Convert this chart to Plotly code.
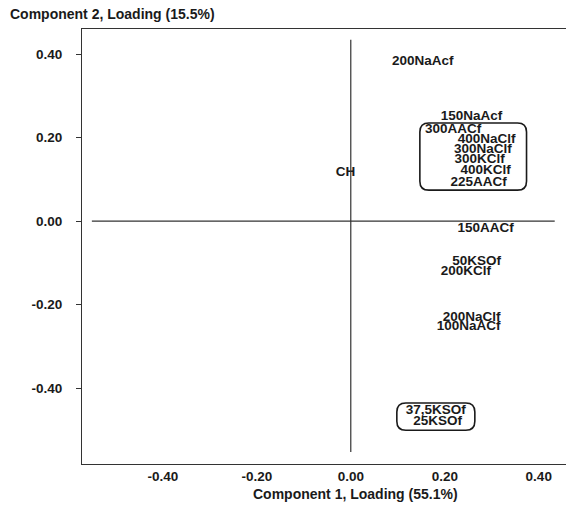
import plotly.graph_objects as go

# Sample labels and their loadings (Component 1, Component 2)
labels = ["200NaAcf", "150NaAcf", "300AACf", "400NaClf", "300NaClf", "300KClf",
          "400KClf", "225AACf", "CH", "150AACf", "50KSOf", "200KClf",
          "200NaClf", "100NaACf", "37,5KSOf", "25KSOf"]
comp1 = [0.153, 0.257, 0.218, 0.289, 0.281, 0.274, 0.287, 0.272, -0.011,
         0.287, 0.268, 0.245, 0.257, 0.251, 0.181, 0.185]
comp2 = [0.381, 0.251, 0.218, 0.196, 0.172, 0.148, 0.120, 0.093, 0.115,
         -0.017, -0.098, -0.122, -0.232, -0.254, -0.455, -0.481]

tick_vals = [-0.4, -0.2, 0.0, 0.2, 0.4]
tick_text = ["-0.40", "-0.20", "0.00", "0.20", "0.40"]

# reference axes lines (data units)
hline_x = [-0.551, 0.434]
vline_y = [-0.553, 0.434]

# grouping boxes [x0, x1, y0, y1]
box1 = [0.147, 0.374, 0.074, 0.235]
box2 = [0.098, 0.264, -0.501, -0.436]

XR = [-0.572, 0.458]
YR = [-0.582, 0.46]
PX_X = 470.0   # px per unit
PX_Y = 417.5

FONT = "Liberation Sans, Arial, sans-serif"
INK = "#1a1a1a"

fig = go.Figure()
fig.add_trace(go.Scatter(
    x=comp1, y=comp2, text=labels, mode="text",
    textposition="middle center",
    textfont=dict(family=FONT, size=13.5, color=INK, weight=700),
    hoverinfo="text", showlegend=False, cliponaxis=False))

shapes = [
    dict(type="line", xref="x", yref="y", x0=hline_x[0], x1=hline_x[1], y0=0, y1=0,
         line=dict(color="#333", width=1.2)),
    dict(type="line", xref="x", yref="y", x0=0, x1=0, y0=vline_y[0], y1=vline_y[1],
         line=dict(color="#333", width=1.2)),
]


def rounded(b, rpx=9):
    x0, x1, y0, y1 = b
    rx = rpx / PX_X
    ry = rpx / PX_Y
    p = (f"M {x0+rx},{y0} L {x1-rx},{y0} Q {x1},{y0} {x1},{y0+ry} "
         f"L {x1},{y1-ry} Q {x1},{y1} {x1-rx},{y1} "
         f"L {x0+rx},{y1} Q {x0},{y1} {x0},{y1-ry} "
         f"L {x0},{y0+ry} Q {x0},{y0} {x0+rx},{y0} Z")
    return dict(type="path", xref="x", yref="y", path=p,
                line=dict(color=INK, width=1.6))


shapes.append(rounded(box1))
shapes.append(rounded(box2))

fig.update_layout(
    width=566, height=505,
    margin=dict(l=82, r=0, t=29, b=41),
    paper_bgcolor="white", plot_bgcolor="white",
    font=dict(family=FONT, size=13, color=INK, weight=700),
    shapes=shapes,
    xaxis=dict(range=XR, showgrid=False, zeroline=False, showline=True,
               linecolor="#333", linewidth=1.2, mirror=True,
               tickvals=tick_vals, ticktext=tick_text, ticks="",
               ticklabelstandoff=0,
               tickfont=dict(family=FONT, size=13.5, color=INK, weight=700)),
    yaxis=dict(range=YR, showgrid=False, zeroline=False, showline=True,
               linecolor="#333", linewidth=1.2,
               tickvals=tick_vals, ticktext=tick_text, ticks="outside",
               ticklen=5, tickcolor="#333", ticklabelstandoff=11,
               tickfont=dict(family=FONT, size=13.5, color=INK, weight=700)),
    annotations=[
        dict(text="Component 2, Loading (15.5%)", xref="paper", yref="paper",
             x=(8 - 82) / 484, y=(464 - 14) / 435, xanchor="left", yanchor="middle",
             showarrow=False, font=dict(family=FONT, size=14, color=INK, weight=700)),
        dict(text="Component 1, Loading (55.1%)", xref="paper", yref="paper",
             x=(355 - 82) / 484, y=(464 - 494) / 435, xanchor="center", yanchor="middle",
             showarrow=False, font=dict(family=FONT, size=14, color=INK, weight=700)),
    ],
)

fig.write_html("out.html")
